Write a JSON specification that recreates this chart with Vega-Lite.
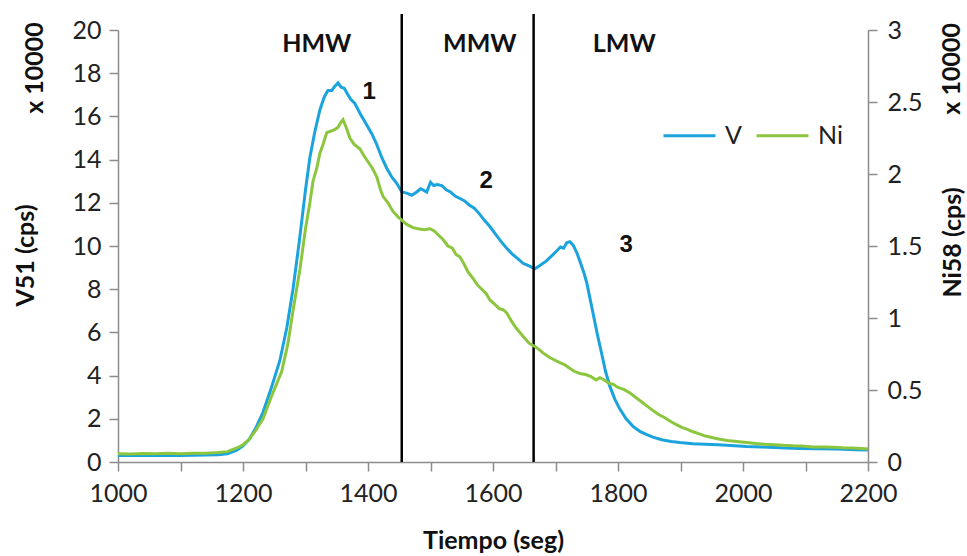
{
  "$schema": "https://vega.github.io/schema/vega-lite/v6.json",
  "width": 750,
  "height": 432,
  "autosize": {"type": "none"},
  "padding": {"left": 118, "top": 30, "right": 99, "bottom": 94},
  "background": "white",
  "config": {
    "view": {"stroke": null},
    "axis": {
      "grid": false,
      "domainColor": "#8c8c8c",
      "domainWidth": 1.5,
      "tickColor": "#8c8c8c",
      "tickWidth": 1.5,
      "tickSize": 9,
      "labelFont": "Lato",
      "labelFontSize": 25,
      "labelColor": "#222222",
      "titleFont": "Lato",
      "titleFontSize": 25,
      "titleFontWeight": "bold",
      "titleColor": "#111111"
    }
  },
  "datasets": {
    "vdata": [
      {"t":1000,"v":0.30},{"t":1020,"v":0.30},{"t":1040,"v":0.31},{"t":1060,"v":0.30},{"t":1080,"v":0.31},{"t":1100,"v":0.30},{"t":1120,"v":0.31},{"t":1140,"v":0.32},{"t":1160,"v":0.33},{"t":1175,"v":0.38},{"t":1190,"v":0.55},{"t":1200,"v":0.75},{"t":1210,"v":1.05},{"t":1220,"v":1.55},{"t":1232,"v":2.3},{"t":1245,"v":3.4},{"t":1259,"v":4.7},{"t":1270,"v":6.2},{"t":1280,"v":8.0},{"t":1290,"v":10.2},{"t":1300,"v":12.6},{"t":1307,"v":14.1},{"t":1315,"v":15.3},{"t":1323,"v":16.3},{"t":1330,"v":16.9},{"t":1336,"v":17.2},{"t":1342,"v":17.2},{"t":1347,"v":17.4},{"t":1352,"v":17.55},{"t":1357,"v":17.35},{"t":1362,"v":17.3},{"t":1366,"v":17.1},{"t":1372,"v":16.8},{"t":1379,"v":16.6},{"t":1388,"v":16.1},{"t":1398,"v":15.6},{"t":1406,"v":15.2},{"t":1414,"v":14.7},{"t":1422,"v":14.1},{"t":1430,"v":13.6},{"t":1438,"v":13.2},{"t":1446,"v":12.9},{"t":1454,"v":12.5},{"t":1462,"v":12.45},{"t":1470,"v":12.35},{"t":1478,"v":12.5},{"t":1484,"v":12.65},{"t":1488,"v":12.6},{"t":1494,"v":12.5},{"t":1500,"v":12.95},{"t":1505,"v":12.8},{"t":1511,"v":12.85},{"t":1518,"v":12.8},{"t":1525,"v":12.6},{"t":1532,"v":12.5},{"t":1540,"v":12.3},{"t":1547,"v":12.2},{"t":1554,"v":12.1},{"t":1562,"v":11.9},{"t":1570,"v":11.75},{"t":1578,"v":11.5},{"t":1586,"v":11.2},{"t":1595,"v":10.9},{"t":1604,"v":10.55},{"t":1613,"v":10.2},{"t":1622,"v":9.9},{"t":1630,"v":9.65},{"t":1640,"v":9.4},{"t":1648,"v":9.2},{"t":1656,"v":9.1},{"t":1667,"v":8.95},{"t":1675,"v":9.1},{"t":1685,"v":9.3},{"t":1696,"v":9.6},{"t":1703,"v":9.8},{"t":1708,"v":9.95},{"t":1713,"v":9.9},{"t":1718,"v":10.15},{"t":1723,"v":10.2},{"t":1728,"v":10.05},{"t":1734,"v":9.7},{"t":1739,"v":9.3},{"t":1745,"v":8.8},{"t":1750,"v":8.3},{"t":1755,"v":7.6},{"t":1760,"v":6.9},{"t":1767,"v":5.9},{"t":1774,"v":5.0},{"t":1780,"v":4.2},{"t":1787,"v":3.5},{"t":1795,"v":2.9},{"t":1803,"v":2.45},{"t":1813,"v":2.0},{"t":1824,"v":1.65},{"t":1835,"v":1.42},{"t":1846,"v":1.27},{"t":1856,"v":1.15},{"t":1870,"v":1.03},{"t":1885,"v":0.95},{"t":1899,"v":0.9},{"t":1920,"v":0.85},{"t":1940,"v":0.82},{"t":1960,"v":0.8},{"t":1980,"v":0.76},{"t":2006,"v":0.72},{"t":2030,"v":0.7},{"t":2060,"v":0.66},{"t":2090,"v":0.63},{"t":2120,"v":0.61},{"t":2150,"v":0.6},{"t":2180,"v":0.57},{"t":2200,"v":0.55}
    ],
    "nidata": [
      {"t":1000,"ni":0.057},{"t":1020,"ni":0.0555},{"t":1040,"ni":0.0585},{"t":1060,"ni":0.057},{"t":1080,"ni":0.06},{"t":1100,"ni":0.057},{"t":1120,"ni":0.0615},{"t":1140,"ni":0.06},{"t":1160,"ni":0.066},{"t":1175,"ni":0.072},{"t":1190,"ni":0.0975},{"t":1200,"ni":0.12},{"t":1210,"ni":0.1575},{"t":1220,"ni":0.2175},{"t":1232,"ni":0.3},{"t":1245,"ni":0.45},{"t":1262,"ni":0.63},{"t":1272,"ni":0.825},{"t":1280,"ni":1.05},{"t":1291,"ni":1.335},{"t":1300,"ni":1.62},{"t":1307,"ni":1.8},{"t":1312,"ni":1.95},{"t":1318,"ni":2.04},{"t":1323,"ni":2.145},{"t":1328,"ni":2.205},{"t":1334,"ni":2.2875},{"t":1339,"ni":2.295},{"t":1344,"ni":2.3025},{"t":1347,"ni":2.31},{"t":1352,"ni":2.325},{"t":1356,"ni":2.355},{"t":1360,"ni":2.3775},{"t":1365,"ni":2.325},{"t":1371,"ni":2.25},{"t":1378,"ni":2.205},{"t":1387,"ni":2.175},{"t":1393,"ni":2.13},{"t":1400,"ni":2.085},{"t":1407,"ni":2.04},{"t":1414,"ni":1.98},{"t":1420,"ni":1.89},{"t":1424,"ni":1.845},{"t":1432,"ni":1.8},{"t":1440,"ni":1.74},{"t":1448,"ni":1.7025},{"t":1454,"ni":1.68},{"t":1462,"ni":1.65},{"t":1472,"ni":1.6275},{"t":1480,"ni":1.62},{"t":1490,"ni":1.6125},{"t":1499,"ni":1.62},{"t":1506,"ni":1.605},{"t":1513,"ni":1.575},{"t":1520,"ni":1.545},{"t":1528,"ni":1.5},{"t":1535,"ni":1.485},{"t":1541,"ni":1.44},{"t":1547,"ni":1.425},{"t":1553,"ni":1.38},{"t":1560,"ni":1.32},{"t":1568,"ni":1.275},{"t":1575,"ni":1.23},{"t":1582,"ni":1.2},{"t":1589,"ni":1.17},{"t":1595,"ni":1.125},{"t":1603,"ni":1.095},{"t":1610,"ni":1.065},{"t":1616,"ni":1.0575},{"t":1622,"ni":1.035},{"t":1630,"ni":0.975},{"t":1637,"ni":0.93},{"t":1643,"ni":0.9},{"t":1650,"ni":0.8625},{"t":1658,"ni":0.825},{"t":1667,"ni":0.8025},{"t":1672,"ni":0.7875},{"t":1680,"ni":0.7575},{"t":1690,"ni":0.7275},{"t":1700,"ni":0.705},{"t":1707,"ni":0.69},{"t":1715,"ni":0.675},{"t":1722,"ni":0.6525},{"t":1730,"ni":0.63},{"t":1739,"ni":0.615},{"t":1748,"ni":0.6075},{"t":1757,"ni":0.5925},{"t":1765,"ni":0.57},{"t":1771,"ni":0.585},{"t":1778,"ni":0.57},{"t":1785,"ni":0.5475},{"t":1792,"ni":0.54},{"t":1800,"ni":0.5175},{"t":1810,"ni":0.5025},{"t":1819,"ni":0.48},{"t":1828,"ni":0.45},{"t":1837,"ni":0.42},{"t":1846,"ni":0.39},{"t":1855,"ni":0.36},{"t":1865,"ni":0.33},{"t":1875,"ni":0.3075},{"t":1883,"ni":0.285},{"t":1892,"ni":0.2625},{"t":1902,"ni":0.24},{"t":1912,"ni":0.225},{"t":1920,"ni":0.21},{"t":1930,"ni":0.195},{"t":1940,"ni":0.18},{"t":1952,"ni":0.168},{"t":1963,"ni":0.1575},{"t":1975,"ni":0.15},{"t":1990,"ni":0.1425},{"t":2006,"ni":0.135},{"t":2020,"ni":0.129},{"t":2035,"ni":0.123},{"t":2050,"ni":0.12},{"t":2065,"ni":0.1155},{"t":2080,"ni":0.1125},{"t":2095,"ni":0.111},{"t":2112,"ni":0.105},{"t":2130,"ni":0.1035},{"t":2145,"ni":0.102},{"t":2160,"ni":0.099},{"t":2175,"ni":0.0975},{"t":2190,"ni":0.093},{"t":2200,"ni":0.09}
    ],
    "dividers": [
      {"t":1454,"v":0,"v2":20.74},
      {"t":1665,"v":0,"v2":20.74}
    ],
    "regions": [
      {"t":1318,"v":18.98,"label":"HMW"},
      {"t":1579,"v":18.98,"label":"MMW"},
      {"t":1810,"v":18.98,"label":"LMW"}
    ],
    "peaks": [
      {"t":1402,"v":16.81,"label":"1"},
      {"t":1589,"v":12.70,"label":"2"},
      {"t":1813,"v":9.70,"label":"3"}
    ],
    "units": [
      {"t":880,"v":18.24,"label":"x 10000"},
      {"t":2347,"v":18.2,"label":"x 10000"}
    ]
  },
  "encoding": {
    "x": {
      "field": "t",
      "type": "quantitative",
      "scale": {"domain": [1000, 2200], "nice": false, "zero": false},
      "axis": {
        "values": [1000,1100,1200,1300,1400,1500,1600,1700,1800,1900,2000,2100,2200],
        "format": "d",
        "labelExpr": "datum.value % 200 === 0 ? datum.label : ''",
        "labelPadding": 10,
        "labelFlush": false,
        "title": "Tiempo (seg)",
        "titleY": 86,
        "titleBaseline": "alphabetic"
      }
    }
  },
  "layer": [
    {
      "encoding": {
        "y": {
          "field": "v",
          "type": "quantitative",
          "scale": {"domain": [0, 20], "nice": false},
          "axis": {
            "values": [0,2,4,6,8,10,12,14,16,18,20],
            "labelPadding": 8,
            "title": "V51 (cps)",
            "titleAngle": 270,
            "titleX": -85,
            "titleY": 225,
            "titleAlign": "center",
            "titleBaseline": "alphabetic"
          }
        }
      },
      "layer": [
        {
          "data": {"name": "vdata"},
          "mark": {"type": "line", "strokeWidth": 3},
          "encoding": {
            "color": {
              "datum": "V",
              "scale": {"domain": ["V", "Ni"], "range": ["#1ba3dd", "#8cc63f"]},
              "legend": {
                "orient": "none",
                "legendX": 544,
                "legendY": 78,
                "direction": "horizontal",
                "title": null,
                "symbolType": "stroke",
                "symbolSize": 2700,
                "symbolStrokeWidth": 3,
                "labelFont": "Lato",
                "labelFontSize": 25,
                "labelColor": "#222222",
                "labelOffset": 8,
                "columnPadding": 8
              }
            }
          }
        },
        {
          "data": {"name": "dividers"},
          "mark": {"type": "rule", "color": "black", "strokeWidth": 2.5},
          "encoding": {"y2": {"field": "v2"}}
        },
        {
          "data": {"name": "regions"},
          "mark": {"type": "text", "font": "Lato", "fontWeight": "bold", "fontSize": 25, "color": "#111111", "align": "center", "baseline": "alphabetic"},
          "encoding": {"text": {"field": "label"}}
        },
        {
          "data": {"name": "peaks"},
          "mark": {"type": "text", "font": "Liberation Sans", "fontWeight": "bold", "fontSize": 24, "color": "#111111", "align": "center", "baseline": "alphabetic"},
          "encoding": {"text": {"field": "label"}}
        },
        {
          "data": {"name": "units"},
          "mark": {"type": "text", "font": "Lato", "fontWeight": "bold", "fontSize": 25, "color": "#111111", "align": "center", "baseline": "alphabetic", "angle": 270},
          "encoding": {"text": {"field": "label"}}
        }
      ]
    },
    {
      "data": {"name": "nidata"},
      "mark": {"type": "line", "strokeWidth": 3},
      "encoding": {
        "y": {
          "field": "ni",
          "type": "quantitative",
          "scale": {"domain": [0, 3], "nice": false},
          "axis": {
            "orient": "right",
            "values": [0,0.5,1,1.5,2,2.5,3],
            "format": "~g",
            "labelPadding": 10,
            "title": "Ni58 (cps)",
            "titleAngle": 270,
            "titleX": 92,
            "titleY": 212,
            "titleAlign": "center",
            "titleBaseline": "alphabetic"
          }
        },
        "color": {
          "datum": "Ni",
          "scale": {"domain": ["V", "Ni"], "range": ["#1ba3dd", "#8cc63f"]}
        }
      }
    }
  ],
  "resolve": {"scale": {"y": "independent"}}
}
